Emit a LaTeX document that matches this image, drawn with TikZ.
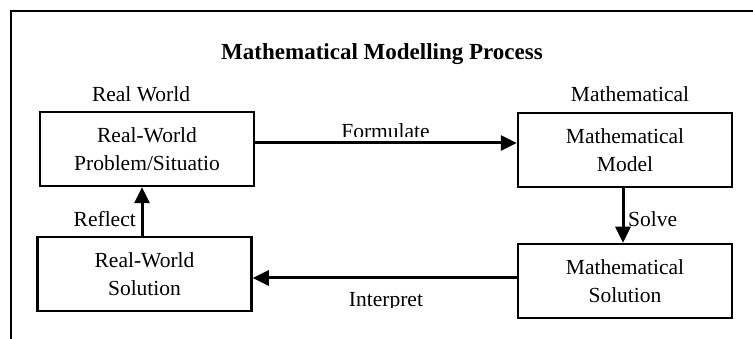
\documentclass[tikz,border=0pt]{standalone}
\usepackage{fontspec}
\setmainfont{Liberation Serif}
\usetikzlibrary{arrows.meta}

\tikzset{
  frameline/.style={line width=2.4pt},
  box/.style={draw, line width=2.5pt, minimum width=214pt, minimum height=74pt,
              align=center, inner sep=0pt, font=\fontsize{21.5}{28}\selectfont},
  label/.style={anchor=base, inner sep=0pt, font=\fontsize{21.5}{26}\selectfont},
  flow/.style={line width=3pt, -{Triangle[length=16pt,width=15pt]}},
}

\begin{document}
\begin{tikzpicture}[x=1pt, y=-1pt]
  \useasboundingbox (0,0) rectangle (753,339);

  % outer frame (top and left edges)
  \coordinate (fc) at (11,11);
  \coordinate (fr) at (753,11);
  \coordinate (fb) at (11,339);
  \draw[frameline] (fb) -- (fc) -- (fr);

  % title and column headings
  \node[label, font=\bfseries\fontsize{23}{27}\selectfont] (title) at (382,60) {Mathematical Modelling Process};
  \node[label] (hreal) at (141,102) {Real World};
  \node[label] (hmath) at (630,102) {Mathematical};

  % the four stages
  \node[box] (rp) at (147,149) {Real-World\\Problem/Situatio};
  \node[box] (rs) at (144.5,274) {Real-World\\Solution};
  \node[box] (mm) at (625,150) {Mathematical\\Model};
  \node[box] (ms) at (625,281) {Mathematical\\Solution};

  % connectors
  \draw[flow] ([yshift=6pt]rp.east) -- ([yshift=6pt]rp.east -| mm.west);
  \draw[flow] ([xshift=-2pt]mm.south) -- ([xshift=-2pt]mm.south |- ms.north);
  \draw[flow] ([yshift=3pt]ms.west) -- ([yshift=3pt]ms.west -| rs.east);
  \draw[flow] ([xshift=-2.5pt]rs.north) -- ([xshift=-2.5pt]rs.north |- rp.south);

  % connector labels (the two long ones sit in clipped text boxes)
  \begin{scope}
    \clip (300,110) rectangle (470,137);
    \node[label] (lform) at (385.5,139) {Formulate};
  \end{scope}
  \begin{scope}
    \clip (300,285) rectangle (470,308);
    \node[label] (linterp) at (386,307) {Interpret};
  \end{scope}
  \node[label, anchor=base east] (lrefl) at (136,227) {Reflect};
  \node[label, anchor=base west] (lsolve) at (628,227) {Solve};
\end{tikzpicture}
\end{document}
